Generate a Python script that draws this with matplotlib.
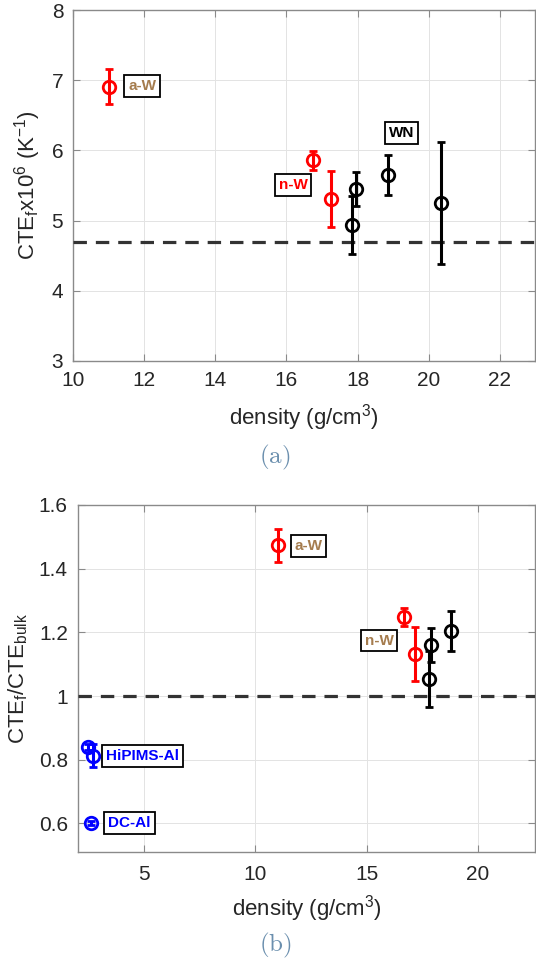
import numpy as np
import matplotlib
matplotlib.use("Agg")
from matplotlib import pyplot as plt

plt.rcParams['font.family'] = ['Liberation Sans', 'DejaVu Sans']
plt.rcParams['mathtext.fontset'] = 'custom'
plt.rcParams['mathtext.rm'] = 'Liberation Sans'
plt.rcParams['mathtext.it'] = 'Liberation Sans'

# ---- panel (a): CTE_f x 1e6 vs density ----
a_aW_x = [11.0]
a_aW_y = [6.91]
a_aW_err = [0.25]

a_nW_x = [16.75, 17.25]
a_nW_y = [5.86, 5.31]
a_nW_err = [0.135, 0.40]

a_WN_x = [17.85, 17.95, 18.85, 20.35]
a_WN_y = [4.94, 5.45, 5.65, 5.25]
a_WN_err = [0.41, 0.245, 0.29, 0.87]

a_bulk = 4.7

# ---- panel (b): CTE_f / CTE_bulk vs density ----
b_aW_x = [11.0]
b_aW_y = [1.473]
b_aW_err = [0.052]

b_nW_x = [16.7, 17.2]
b_nW_y = [1.249, 1.133]
b_nW_err = [0.028, 0.085]

b_WN_x = [17.8, 17.9, 18.8]
b_WN_y = [1.053, 1.161, 1.205]
b_WN_err = [0.088, 0.053, 0.063]

b_hip_x = [2.48, 2.7]
b_hip_y = [0.840, 0.812]
b_hip_err = [0.01, 0.036]

b_dc_x = [2.6]
b_dc_y = [0.602]
b_dc_err = [0.006]

b_bulk = 1.0

BROWN = '#a57c4e'
CAP_COL = '#6b8fae'
AX_COL = '#8a8a8a'
TXT_COL = '#262626'


def draw_points(ax, x, y, err, col):
    ax.errorbar(x, y, yerr=err, fmt='o', color=col, mfc='none', mec=col,
                ms=9, mew=2.0, elinewidth=2.2, capsize=3, capthick=2.2, zorder=5)


def label_box(ax, x, y, txt, col):
    ax.text(x, y, txt, color=col, fontsize=11, fontweight='bold', ha='center', va='center',
            bbox=dict(boxstyle='square,pad=0.25', fc='white', ec='black', lw=1.3), zorder=6)


def style_axes(ax):
    ax.grid(True, color='#e3e3e3', lw=0.7)
    ax.set_axisbelow(True)
    for s in ax.spines.values():
        s.set_color(AX_COL)
        s.set_linewidth(1.0)
    ax.tick_params(direction='in', length=5, width=0.8, color=AX_COL, top=True, right=True,
                   labelsize=15, labelcolor=TXT_COL, pad=7)


fig = plt.figure(figsize=(5.36, 9.6), dpi=100)

# panel (a)
ax1 = fig.add_axes([73 / 536, 1 - 361 / 960, 1 - 73 / 536 - 0.001, 351 / 960])
style_axes(ax1)
ax1.axhline(a_bulk, color='#333333', lw=2.3, ls=(0, (4.2, 2.8)), zorder=3)
draw_points(ax1, a_aW_x, a_aW_y, a_aW_err, 'red')
draw_points(ax1, a_nW_x, a_nW_y, a_nW_err, 'red')
draw_points(ax1, a_WN_x, a_WN_y, a_WN_err, 'black')
label_box(ax1, 11.94, 6.92, 'a-W', BROWN)
label_box(ax1, 16.19, 5.51, 'n-W', 'red')
label_box(ax1, 19.24, 6.25, 'WN', 'black')
ax1.set_xlim(10, 23)
ax1.set_ylim(3, 8)
ax1.set_xticks(np.arange(10, 23, 2))
ax1.set_yticks(np.arange(3, 9, 1))
ax1.set_xlabel(r'density (g/cm$^3$)', fontsize=16, color=TXT_COL, labelpad=9)
ax1.set_ylabel(r'CTE$_f$x10$^6$ (K$^{-1}$)', fontsize=16, color=TXT_COL, labelpad=6)
fig.text(0.513, 1 - 457 / 960, r'$\mathrm{(a)}$', math_fontfamily='cm', fontsize=18,
         color=CAP_COL, ha='center', va='center')

# panel (b)
ax2 = fig.add_axes([77.5 / 536, 1 - 852 / 960, 1 - 77.5 / 536 - 0.001, 347 / 960])
style_axes(ax2)
ax2.tick_params(axis='x', pad=9)
ax2.axhline(b_bulk, color='#333333', lw=2.3, ls=(0, (4.2, 2.8)), zorder=3)
draw_points(ax2, b_aW_x, b_aW_y, b_aW_err, 'red')
draw_points(ax2, b_nW_x, b_nW_y, b_nW_err, 'red')
draw_points(ax2, b_WN_x, b_WN_y, b_WN_err, 'black')
draw_points(ax2, b_hip_x, b_hip_y, b_hip_err, 'blue')
draw_points(ax2, b_dc_x, b_dc_y, b_dc_err, 'blue')
label_box(ax2, 12.39, 1.472, 'a-W', BROWN)
label_box(ax2, 15.57, 1.174, 'n-W', BROWN)
label_box(ax2, 4.92, 0.812, 'HiPIMS-Al', 'blue')
label_box(ax2, 4.34, 0.601, 'DC-Al', 'blue')
ax2.set_xlim(2.0, 22.6)
ax2.set_ylim(0.51, 1.6)
ax2.set_xticks([5, 10, 15, 20])
ax2.set_yticks([0.6, 0.8, 1.0, 1.2, 1.4, 1.6])
ax2.set_yticklabels(['0.6', '0.8', '1', '1.2', '1.4', '1.6'])
ax2.set_xlabel(r'density (g/cm$^3$)', fontsize=16, color=TXT_COL, labelpad=7)
ax2.set_ylabel(r'CTE$_f$/CTE$_{bulk}$', fontsize=16, color=TXT_COL, labelpad=6)
fig.text(0.513, 1 - 945 / 960, r'$\mathrm{(b)}$', math_fontfamily='cm', fontsize=18,
         color=CAP_COL, ha='center', va='center')

fig.savefig('out.png', dpi=100)
